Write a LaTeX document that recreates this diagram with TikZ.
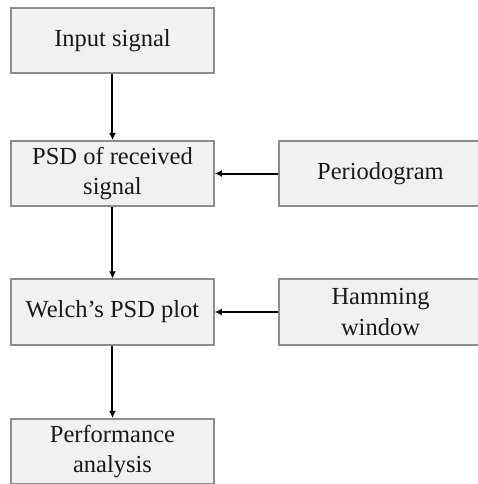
\documentclass[tikz,border=0pt]{standalone}
\usepackage{fontspec}
\setmainfont{Liberation Serif}
\usetikzlibrary{arrows.meta}
\definecolor{boxfill}{HTML}{F1F1F1}
\definecolor{boxline}{HTML}{8C8C8C}
\tikzset{
  blk/.style={draw=boxline, fill=boxfill, line width=0.8pt, minimum width=101.5pt, minimum height=32.75pt,
    inner sep=0pt, align=center, font=\fontsize{12.25}{15.3}\selectfont, text=black!90},
  conn/.style={line width=1pt, -{Latex[length=3.6pt,width=3.6pt]}}
}
\begin{document}
\begin{tikzpicture}[x=0.5pt,y=-0.5pt]
\useasboundingbox (0,0) rectangle (478,484);
\clip (0,0) rectangle (478,484);
\node[blk] (in) at (112.5,40.5) {Input signal};
\node[blk] (psd) at (112.5,173.5) {PSD of received\\signal};
\node[blk] (per) at (380.5,173.5) {Periodogram};
\node[blk] (wel) at (112.5,312) {Welch’s PSD plot};
\node[blk] (ham) at (380.5,312) {Hamming\\window};
\node[blk] (perf) at (112.5,451.5) {Performance\\analysis};
\draw[conn] (in) -- (psd);
\draw[conn] (psd) -- (wel);
\draw[conn] (wel) -- (perf);
\draw[conn] (per) -- (psd);
\draw[conn] (ham) -- (wel);
\end{tikzpicture}
\end{document}
